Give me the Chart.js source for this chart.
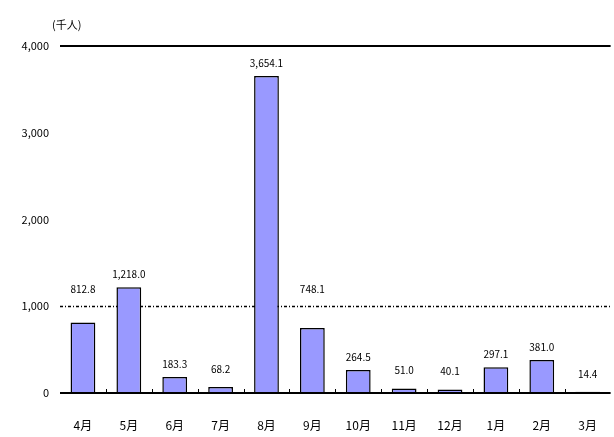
<!DOCTYPE html>
<html>
<head>
<meta charset="utf-8">
<script src="https://cdn.jsdelivr.net/npm/chart.js@4"></script>
<style>
  html, body { margin: 0; padding: 0; background: #fff; }
  #wrap { width: 614px; height: 437px; position: relative; }
</style>
</head>
<body>
<div id="wrap"><canvas id="myChart"></canvas></div>
<script>
const months = ['4月', '5月', '6月', '7月', '8月', '9月', '10月', '11月', '12月', '1月', '2月', '3月'];
const visitors = [812.8, 1218.0, 183.3, 68.2, 3654.1, 748.1, 264.5, 51.0, 40.1, 297.1, 381.0, 14.4];
const yTicks = [0, 1000, 2000, 3000, 4000];
const unitLabel = '(千人)';

const font = '"Noto Sans CJK JP", "DejaVu Sans", sans-serif';

// reference lines, axis baseline, little ticks and value labels
const decor = {
  id: 'decor',
  beforeDatasetsDraw(chart) {
    const { ctx, chartArea, scales } = chart;
    const y = scales.y;
    ctx.save();
    // top line at 4,000
    ctx.strokeStyle = '#000';
    ctx.lineWidth = 2;
    ctx.beginPath();
    ctx.moveTo(chartArea.left, y.getPixelForValue(4000));
    ctx.lineTo(chartArea.right, y.getPixelForValue(4000));
    ctx.stroke();
    // dotted line at 1,000
    const y1 = Math.round(y.getPixelForValue(1000)) + 0.5;
    ctx.lineWidth = 1.5;
    ctx.setLineDash([3, 2, 1, 2]);
    ctx.beginPath();
    ctx.moveTo(chartArea.left, y1);
    ctx.lineTo(chartArea.right, y1);
    ctx.stroke();
    ctx.restore();
  },
  afterDatasetsDraw(chart) {
    const { ctx, chartArea, scales } = chart;
    const y = scales.y, x = scales.x;
    ctx.save();
    const y0 = y.getPixelForValue(0);
    ctx.strokeStyle = '#000';
    ctx.lineWidth = 2;
    ctx.beginPath();
    ctx.moveTo(chartArea.left, y0);
    ctx.lineTo(chartArea.right, y0);
    ctx.stroke();
    // small ticks between categories
    ctx.lineWidth = 1;
    for (let i = 1; i < months.length; i++) {
      const px = Math.round((x.getPixelForValue(i - 1) + x.getPixelForValue(i)) / 2) + 0.5;
      ctx.beginPath();
      ctx.moveTo(px, y0);
      ctx.lineTo(px, y0 - 4);
      ctx.stroke();
    }
    // value labels
    const lineY = y.getPixelForValue(1000);
    ctx.fillStyle = '#000';
    ctx.font = '10px ' + font;
    ctx.textAlign = 'center';
    ctx.textBaseline = 'middle';
    chart.getDatasetMeta(0).data.forEach((bar, i) => {
      let ly = bar.y - (visitors[i] < 150 ? 18 : 13);
      if (visitors[i] < 1000 && ly < lineY + 10) ly = lineY - 17;
      const txt = visitors[i].toLocaleString('en-US', { minimumFractionDigits: 1, maximumFractionDigits: 1 });
      ctx.fillText(txt, bar.x, ly);
    });
    // unit
    ctx.textAlign = 'left';
    ctx.font = '11px ' + font;
    ctx.fillText(unitLabel, 52, 25);
    ctx.restore();
  }
};

new Chart(document.getElementById('myChart'), {
  type: 'bar',
  data: {
    labels: months,
    datasets: [{
      data: visitors,
      backgroundColor: '#9999ff',
      borderColor: '#000',
      borderWidth: 1.5,
      barPercentage: 0.54,
      categoryPercentage: 1
    }]
  },
  options: {
    responsive: true,
    maintainAspectRatio: false,
    animation: false,
    layout: { padding: { top: 46, right: 0, left: 0, bottom: 0 } },
    plugins: {
      legend: { display: false },
      tooltip: { enabled: false }
    },
    scales: {
      x: {
        grid: { display: false },
        border: { display: false },
        ticks: { color: '#000', font: { size: 12, family: font }, padding: 17 },
        afterFit(scale) { scale.height = 44; }
      },
      y: {
        min: 0,
        max: 4000,
        afterBuildTicks(scale) { scale.ticks = yTicks.map(v => ({ value: v })); },
        grid: { display: false },
        border: { display: false },
        ticks: {
          color: '#000',
          font: { size: 11, family: font },
          padding: 3,
          callback: v => v.toLocaleString('en-US')
        },
        afterFit(scale) { scale.width = 60; }
      }
    }
  },
  plugins: [decor]
});
</script>
</body>
</html>
